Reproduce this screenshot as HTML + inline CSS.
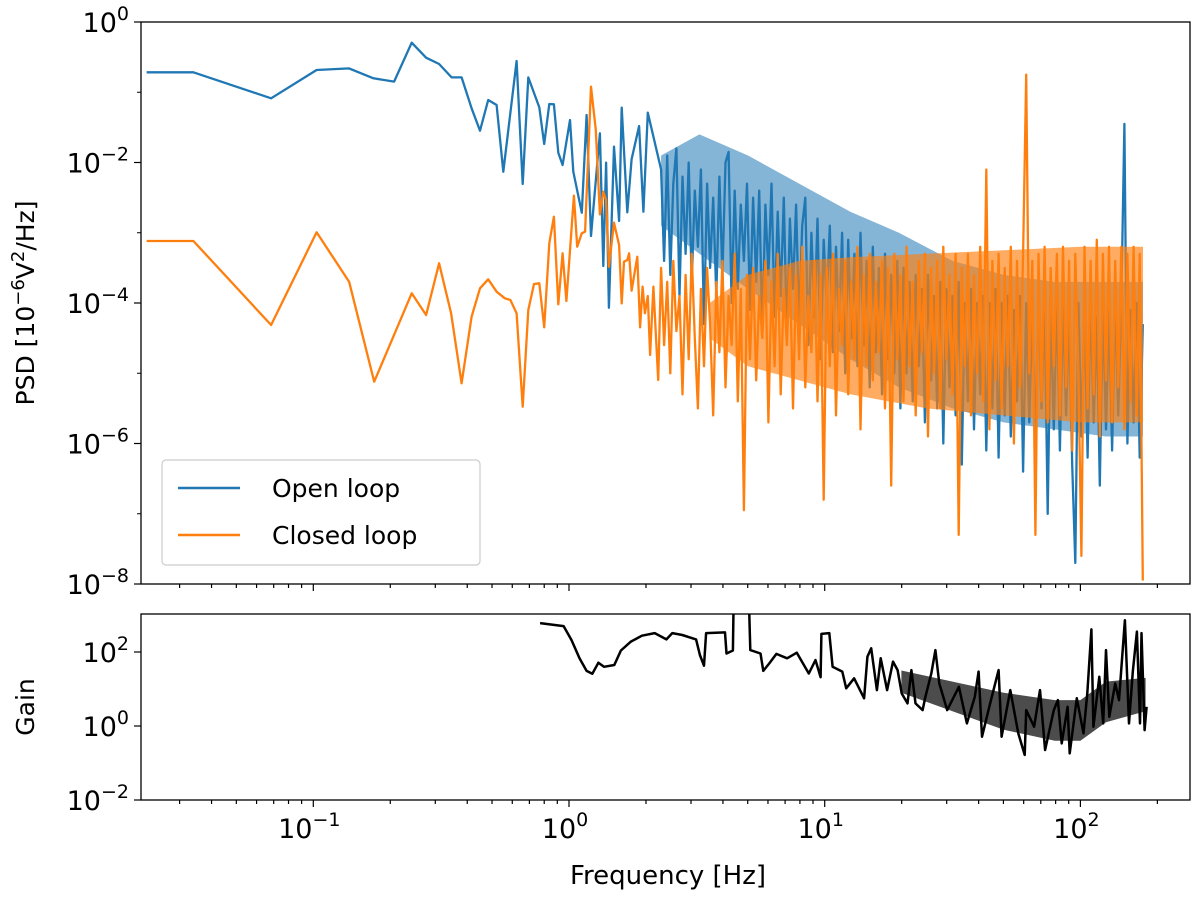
<!DOCTYPE html>
<html><head><meta charset="utf-8"><style>
body{margin:0;background:#fff;}
svg text{font-family:"DejaVu Sans","Liberation Sans",sans-serif;fill:#000;}
</style></head><body>
<svg id="chart" width="1200" height="897" xmlns="http://www.w3.org/2000/svg">
<defs>
<clipPath id="clipTop"><rect x="141" y="22" width="1049" height="562"/></clipPath>
<clipPath id="clipBot"><rect x="141" y="614" width="1049" height="186"/></clipPath>
</defs>
<g id="topAx"></g>
<g id="botAx"></g>
<text transform="translate(34,303) rotate(-90)" text-anchor="middle" font-size="25">PSD [10<tspan dy="-10" font-size="18">−6</tspan><tspan dy="10">V</tspan><tspan dy="-10" font-size="18">2</tspan><tspan dy="10">/Hz]</tspan></text>
<text transform="translate(34,707) rotate(-90)" text-anchor="middle" font-size="25">Gain</text>
<text x="668" y="884" text-anchor="middle" font-size="26">Frequency [Hz]</text>
<g>
<rect x="162" y="460" width="318" height="105" rx="4" fill="#fff" fill-opacity="0.8" stroke="#ccc" stroke-width="1.2"/>
<line x1="178" y1="488" x2="240" y2="488" stroke="#1f77b4" stroke-width="2.5"/>
<text x="272" y="497" font-size="25">Open loop</text>
<line x1="178" y1="535" x2="240" y2="535" stroke="#ff7f0e" stroke-width="2.5"/>
<text x="272" y="544" font-size="25">Closed loop</text>
</g>
</svg>
<script>
const openLowLogF=[-1.652,-1.469,-1.165,-0.987,-0.860,-0.765,-0.684,-0.615,-0.559,-0.508,-0.459,-0.420,-0.381,-0.348,-0.316,-0.283,-0.257,-0.205,-0.181,-0.159,-0.116,-0.097,-0.077,-0.059,-0.042,-0.025,0.004,0.017,0.050,0.069,0.086,0.121,0.134,0.145,0.156,0.176,0.196,0.206,0.228,0.245,0.274,0.291,0.308];
const openLowLogPSD=[-0.716,-0.716,-1.086,-0.683,-0.660,-0.802,-0.849,-0.294,-0.508,-0.598,-0.788,-0.788,-1.229,-1.547,-1.110,-1.181,-2.131,-0.555,-2.306,-0.788,-1.215,-1.737,-1.167,-1.172,-1.860,-2.036,-1.395,-2.131,-2.714,-1.324,-3.046,-1.585,-3.473,-2.003,-4.067,-1.775,-2.833,-1.219,-2.709,-1.955,-1.480,-2.700,-1.291];
const closedLowLogF=[-1.652,-1.469,-1.165,-0.987,-0.860,-0.762,-0.615,-0.559,-0.508,-0.461,-0.420,-0.381,-0.348,-0.316,-0.283,-0.251,-0.229,-0.205,-0.181,-0.159,-0.137,-0.116,-0.097,-0.077,-0.059,-0.042,-0.025,-0.010,0.019,0.032,0.050,0.063,0.086,0.105,0.121,0.134,0.145,0.156,0.176,0.196,0.206,0.215,0.228,0.235,0.245,0.267,0.278,0.288,0.297,0.308,0.317,0.330,0.349];
const closedLowLogPSD=[-3.117,-3.117,-4.313,-2.994,-3.697,-5.120,-3.862,-4.171,-3.435,-4.147,-5.143,-4.195,-3.791,-3.663,-3.839,-3.933,-3.957,-4.147,-5.476,-4.100,-3.730,-3.720,-4.346,-3.150,-2.771,-4.019,-3.293,-3.972,-2.473,-3.198,-3.008,-2.984,-0.920,-1.537,-2.737,-2.415,-2.534,-3.483,-2.857,-3.174,-4.005,-3.412,-3.388,-3.293,-3.825,-3.341,-4.346,-3.768,-4.147,-3.900,-4.740,-3.768,-5.096];
const denseStartLogF=0.36, denseStepLogF=0.012;
const openDenseLogPSD=[-2.1,-3.4,-1.9,-3.6,-2.3,-1.8,-3.9,-2.2,-3.3,-2.0,
-3.7,-2.4,-3.2,-2.1,-4.3,-2.3,-3.5,-2.5,-3.9,-2.2,
-3.6,-2.0,-1.85,-4.0,-2.4,-3.8,-2.6,-3.4,-2.3,-4.1,
-2.5,-3.7,-2.4,-4.4,-2.6,-3.6,-2.3,-4.2,-2.7,-3.9,
-2.5,-4.5,-2.8,-3.8,-2.6,-4.3,-2.9,-2.5,-4.6,-3.0,
-4.2,-2.8,-4.8,-3.1,-4.0,-2.9,-4.7,-3.2,-4.4,-3.0,
-5.0,-3.1,-4.5,-3.3,-4.9,-3.0,-4.6,-3.4,-5.2,-3.2,
-4.7,-3.5,-5.3,-3.3,-4.8,-3.6,-5.0,-3.4,-5.5,-3.5,
-5.0,-3.7,-5.4,-3.6,-4.9,-3.8,-5.7,-3.6,-5.1,-3.9,
-5.5,-3.7,-6.0,-3.8,-5.2,-3.9,-5.6,-3.7,-6.3,-4.0,
-5.4,-3.8,-5.8,-4.0,-5.3,-3.9,-6.1,-4.0,-5.5,-3.8,
-6.2,-4.0,-5.6,-3.9,-5.9,-4.1,-5.4,-3.9,-6.4,-4.0,
-5.7,-4.1,-6.0,-3.9,-5.5,-4.0,-7.0,-4.1,-5.8,-3.9,
-6.1,-4.0,-5.6,-4.2,-6.3,-7.7,-4.0,-5.9,-4.1,-6.2,
-3.9,-5.7,-4.2,-6.6,-4.0,-5.8,-4.1,-6.1,-3.9,-5.6,
-4.0,-1.45,-6.0,-4.1,-5.7,-4.0,-6.2,-4.3];
const closedDenseLogPSD=[-3.5,-4.6,-3.7,-5.0,-3.4,-4.4,-3.9,-5.3,-3.6,-4.8,
-3.3,-4.5,-5.5,-3.8,-4.9,-3.5,-4.3,-5.6,-3.7,-4.7,
-3.4,-5.2,-3.9,-4.6,-3.3,-5.4,-3.8,-6.95,-3.6,-4.8,
-3.5,-5.1,-3.9,-4.5,-3.4,-5.7,-3.7,-4.9,-3.3,-5.3,
-3.8,-4.6,-3.5,-5.5,-3.6,-4.8,-3.2,-5.2,-3.9,-4.7,
-3.4,-5.4,-3.6,-6.8,-3.5,-4.9,-3.3,-5.6,-3.8,-4.6,
-3.4,-5.3,-3.7,-4.8,-3.2,-5.8,-3.6,-4.9,-3.3,-5.1,
-3.7,-4.7,-3.4,-5.5,-3.5,-6.6,-3.3,-4.8,-3.6,-5.4,
-3.2,-4.9,-3.7,-5.6,-3.4,-4.7,-3.3,-5.9,-3.5,-5.0,
-3.4,-5.5,-3.2,-4.8,-3.6,-5.3,-3.3,-7.3,-3.5,-4.9,
-3.3,-5.6,-3.6,-5.0,-3.2,-5.4,-2.1,-5.8,-3.4,-5.1,
-3.3,-5.5,-3.5,-4.9,-3.2,-6.0,-3.4,-5.2,-3.3,-0.75,
-5.0,-3.4,-7.3,-3.3,-5.4,-3.2,-5.7,-3.5,-4.9,-3.3,
-5.6,-3.2,-5.2,-3.4,-6.1,-3.3,-5.0,-7.6,-3.2,-5.5,
-3.4,-5.3,-3.1,-5.9,-3.3,-5.1,-3.2,-5.7,-3.4,-5.2,
-3.2,-5.8,-3.3,-5.4,-3.2,-5.6,-3.3,-7.95];
const openBandLogF=[0.36,0.51,0.7,0.9,1.1,1.29,1.5,1.7,1.9,2.1,2.245];
const openBandHi=[-1.9,-1.6,-1.9,-2.3,-2.7,-3.0,-3.4,-3.6,-3.7,-3.7,-3.7];
const openBandLo=[-2.9,-3.3,-3.8,-4.3,-4.8,-5.2,-5.5,-5.7,-5.8,-5.9,-5.9];
const closedBandLogF=[0.55,0.7,0.9,1.1,1.4,1.7,2.0,2.245];
const closedBandHi=[-4.0,-3.6,-3.4,-3.35,-3.3,-3.25,-3.2,-3.2];
const closedBandLo=[-4.5,-4.9,-5.1,-5.3,-5.5,-5.6,-5.7,-5.7];
const gainBandLogF=[1.3,1.5,1.7,1.9,2.0,2.1,2.255];
const gainBandHi=[1.5,1.2,0.9,0.7,0.7,1.2,1.3];
const gainBandLo=[0.9,0.4,-0.1,-0.4,-0.4,0.1,0.4];
const gainLogF=[-0.113,-0.021,0.010,0.041,0.069,0.091,0.115,0.137,0.177,0.203,0.242,0.285,0.335,0.381,0.404,0.443,0.497,0.512,0.528,0.536,0.610,0.616,0.641,0.644,0.703,0.709,0.749,0.760,0.783,0.811,0.853,0.891,0.938,0.964,0.984,0.987,1.018,1.031,1.069,1.084,1.115,1.154,1.167,1.182,1.204,1.219,1.244,1.267,1.285,1.301,1.324,1.339,1.355,1.383,1.394,1.417,1.433,1.448,1.479,1.525,1.556,1.587,1.602,1.615,1.649,1.680,1.692,1.726,1.757,1.782,1.788,1.819,1.842,1.862,1.896,1.912,1.927,1.950,1.958,1.986,2.012,2.027,2.043,2.051,2.074,2.089,2.100,2.113,2.136,2.151,2.174,2.190,2.205,2.221,2.233,2.239,2.251,2.259];
const gainLog=[2.78,2.70,2.32,1.83,1.49,1.41,1.71,1.60,1.65,2.04,2.28,2.44,2.51,2.34,2.51,2.46,2.34,1.92,1.63,2.51,2.53,1.96,2.04,3.5,3.5,2.05,1.96,1.49,1.69,1.95,1.83,1.98,1.42,1.78,1.32,2.49,2.51,1.60,1.47,1.02,1.29,0.75,1.87,2.10,0.97,1.83,0.97,1.74,1.51,0.88,0.61,1.51,0.61,0.43,0.79,1.42,2.05,1.15,0.43,1.06,0.07,0.79,1.47,-0.29,0.66,1.51,-0.29,0.97,-0.20,-0.78,0.43,-0.02,0.97,-0.65,0.43,0.70,-0.47,0.52,-0.74,0.75,-0.20,0.88,2.61,-0.02,1.33,0.07,2.05,0.25,1.15,0.70,2.86,0.07,1.47,2.55,0.07,2.51,-0.11,0.52];
const xTickExps=[-1,0,1,2];
const psdTickExps=[0,-2,-4,-6,-8];
const gainTickExps=[2,0,-2];

const NS="http://www.w3.org/2000/svg";
const X0=141,X1=1190;
const xs=lf=>569+255.7*lf;
const yTop=lp=>22+(0-lp)*70.25;
const yBot=lg=>726-lg*37;
function mk(tag,attrs,parent){const e=document.createElementNS(NS,tag);for(const k in attrs)e.setAttribute(k,attrs[k]);parent.appendChild(e);return e;}
const topG=document.getElementById('topAx'), botG=document.getElementById('botAx');
function pathFrom(lfArr,lvArr,yf){let d='';for(let i=0;i<lfArr.length;i++){d+=(i?'L':'M')+xs(lfArr[i]).toFixed(1)+','+yf(lvArr[i]).toFixed(1);}return d;}
function bandFrom(lfArr,hi,lo,yf){let d='';for(let i=0;i<lfArr.length;i++)d+=(i?'L':'M')+xs(lfArr[i]).toFixed(1)+','+yf(hi[i]).toFixed(1);for(let i=lfArr.length-1;i>=0;i--)d+='L'+xs(lfArr[i]).toFixed(1)+','+yf(lo[i]).toFixed(1);return d+'Z';}
const denseF=openDenseLogPSD.map((_,i)=>denseStartLogF+i*denseStepLogF);
const denseFc=closedDenseLogPSD.map((_,i)=>denseStartLogF+i*denseStepLogF);
const gTop=mk('g',{'clip-path':'url(#clipTop)'},topG);
const b1=mk('path',{d:bandFrom(openBandLogF,openBandHi,openBandLo,yTop),fill:'#1f77b4','fill-opacity':0.55},gTop);


const p1=mk('path',{d:pathFrom(openLowLogF.concat(denseF),openLowLogPSD.concat(openDenseLogPSD),yTop),fill:'none',stroke:'#1f77b4','stroke-width':2.3,'stroke-linejoin':'round'},gTop);


const b2=mk('path',{d:bandFrom(closedBandLogF,closedBandHi,closedBandLo,yTop),fill:'#ff7f0e','fill-opacity':0.65},gTop);


const p2=mk('path',{d:pathFrom(closedLowLogF.concat(denseFc),closedLowLogPSD.concat(closedDenseLogPSD),yTop),fill:'none',stroke:'#ff7f0e','stroke-width':2.3,'stroke-linejoin':'round'},gTop);


const gBot=mk('g',{'clip-path':'url(#clipBot)'},botG);
const b3=mk('path',{d:bandFrom(gainBandLogF,gainBandHi,gainBandLo,yBot),fill:'#000','fill-opacity':0.7},gBot);


const p3=mk('path',{d:pathFrom(gainLogF,gainLog,yBot),fill:'none',stroke:'#000','stroke-width':2.5,'stroke-linejoin':'round'},gBot);


const f1=mk('rect',{x:X0,y:22,width:X1-X0,height:562,fill:'none',stroke:'#000','stroke-width':1.3},topG);


const f2=mk('rect',{x:X0,y:614,width:X1-X0,height:186,fill:'none',stroke:'#000','stroke-width':1.3},botG);


for(let e=-2;e<=2;e++){for(let m=1;m<10;m++){const lf=e+Math.log10(m);const x=xs(lf);if(x<X0||x>X1)continue;const len=m===1?7:4;
 mk('line',{x1:x,y1:584,x2:x,y2:584+len,stroke:'#000','stroke-width':1.2},topG);
 mk('line',{x1:x,y1:800,x2:x,y2:800+len,stroke:'#000','stroke-width':1.2},botG);}}
xTickExps.forEach(e=>{const t=mk('text',{x:xs(e)-4,y:838,'text-anchor':'middle','font-size':27},botG);
 
 
 t.innerHTML='10<tspan dy="-12" font-size="19">'+(e<0?'−'+(-e):e)+'</tspan>';});
psdTickExps.forEach(e=>{const y=yTop(e);mk('line',{x1:X0-7,y1:y,x2:X0,y2:y,stroke:'#000','stroke-width':1.2},topG);
 const t=mk('text',{x:X0-12,y:y+10,'text-anchor':'end','font-size':27},topG);
 
 
 t.innerHTML='10<tspan dy="-12" font-size="19">'+(e<0?'−'+(-e):e)+'</tspan>';});
for(let e=-7;e<0;e+=2){const y=yTop(e);mk('line',{x1:X0-4,y1:y,x2:X0,y2:y,stroke:'#000','stroke-width':1},topG);}
gainTickExps.forEach(e=>{const y=yBot(e);mk('line',{x1:X0-7,y1:y,x2:X0,y2:y,stroke:'#000','stroke-width':1.2},botG);
 const t=mk('text',{x:X0-12,y:y+10,'text-anchor':'end','font-size':27},botG);
 
 
 t.innerHTML='10<tspan dy="-12" font-size="19">'+(e<0?'−'+(-e):e)+'</tspan>';});
</script>
</body></html>
